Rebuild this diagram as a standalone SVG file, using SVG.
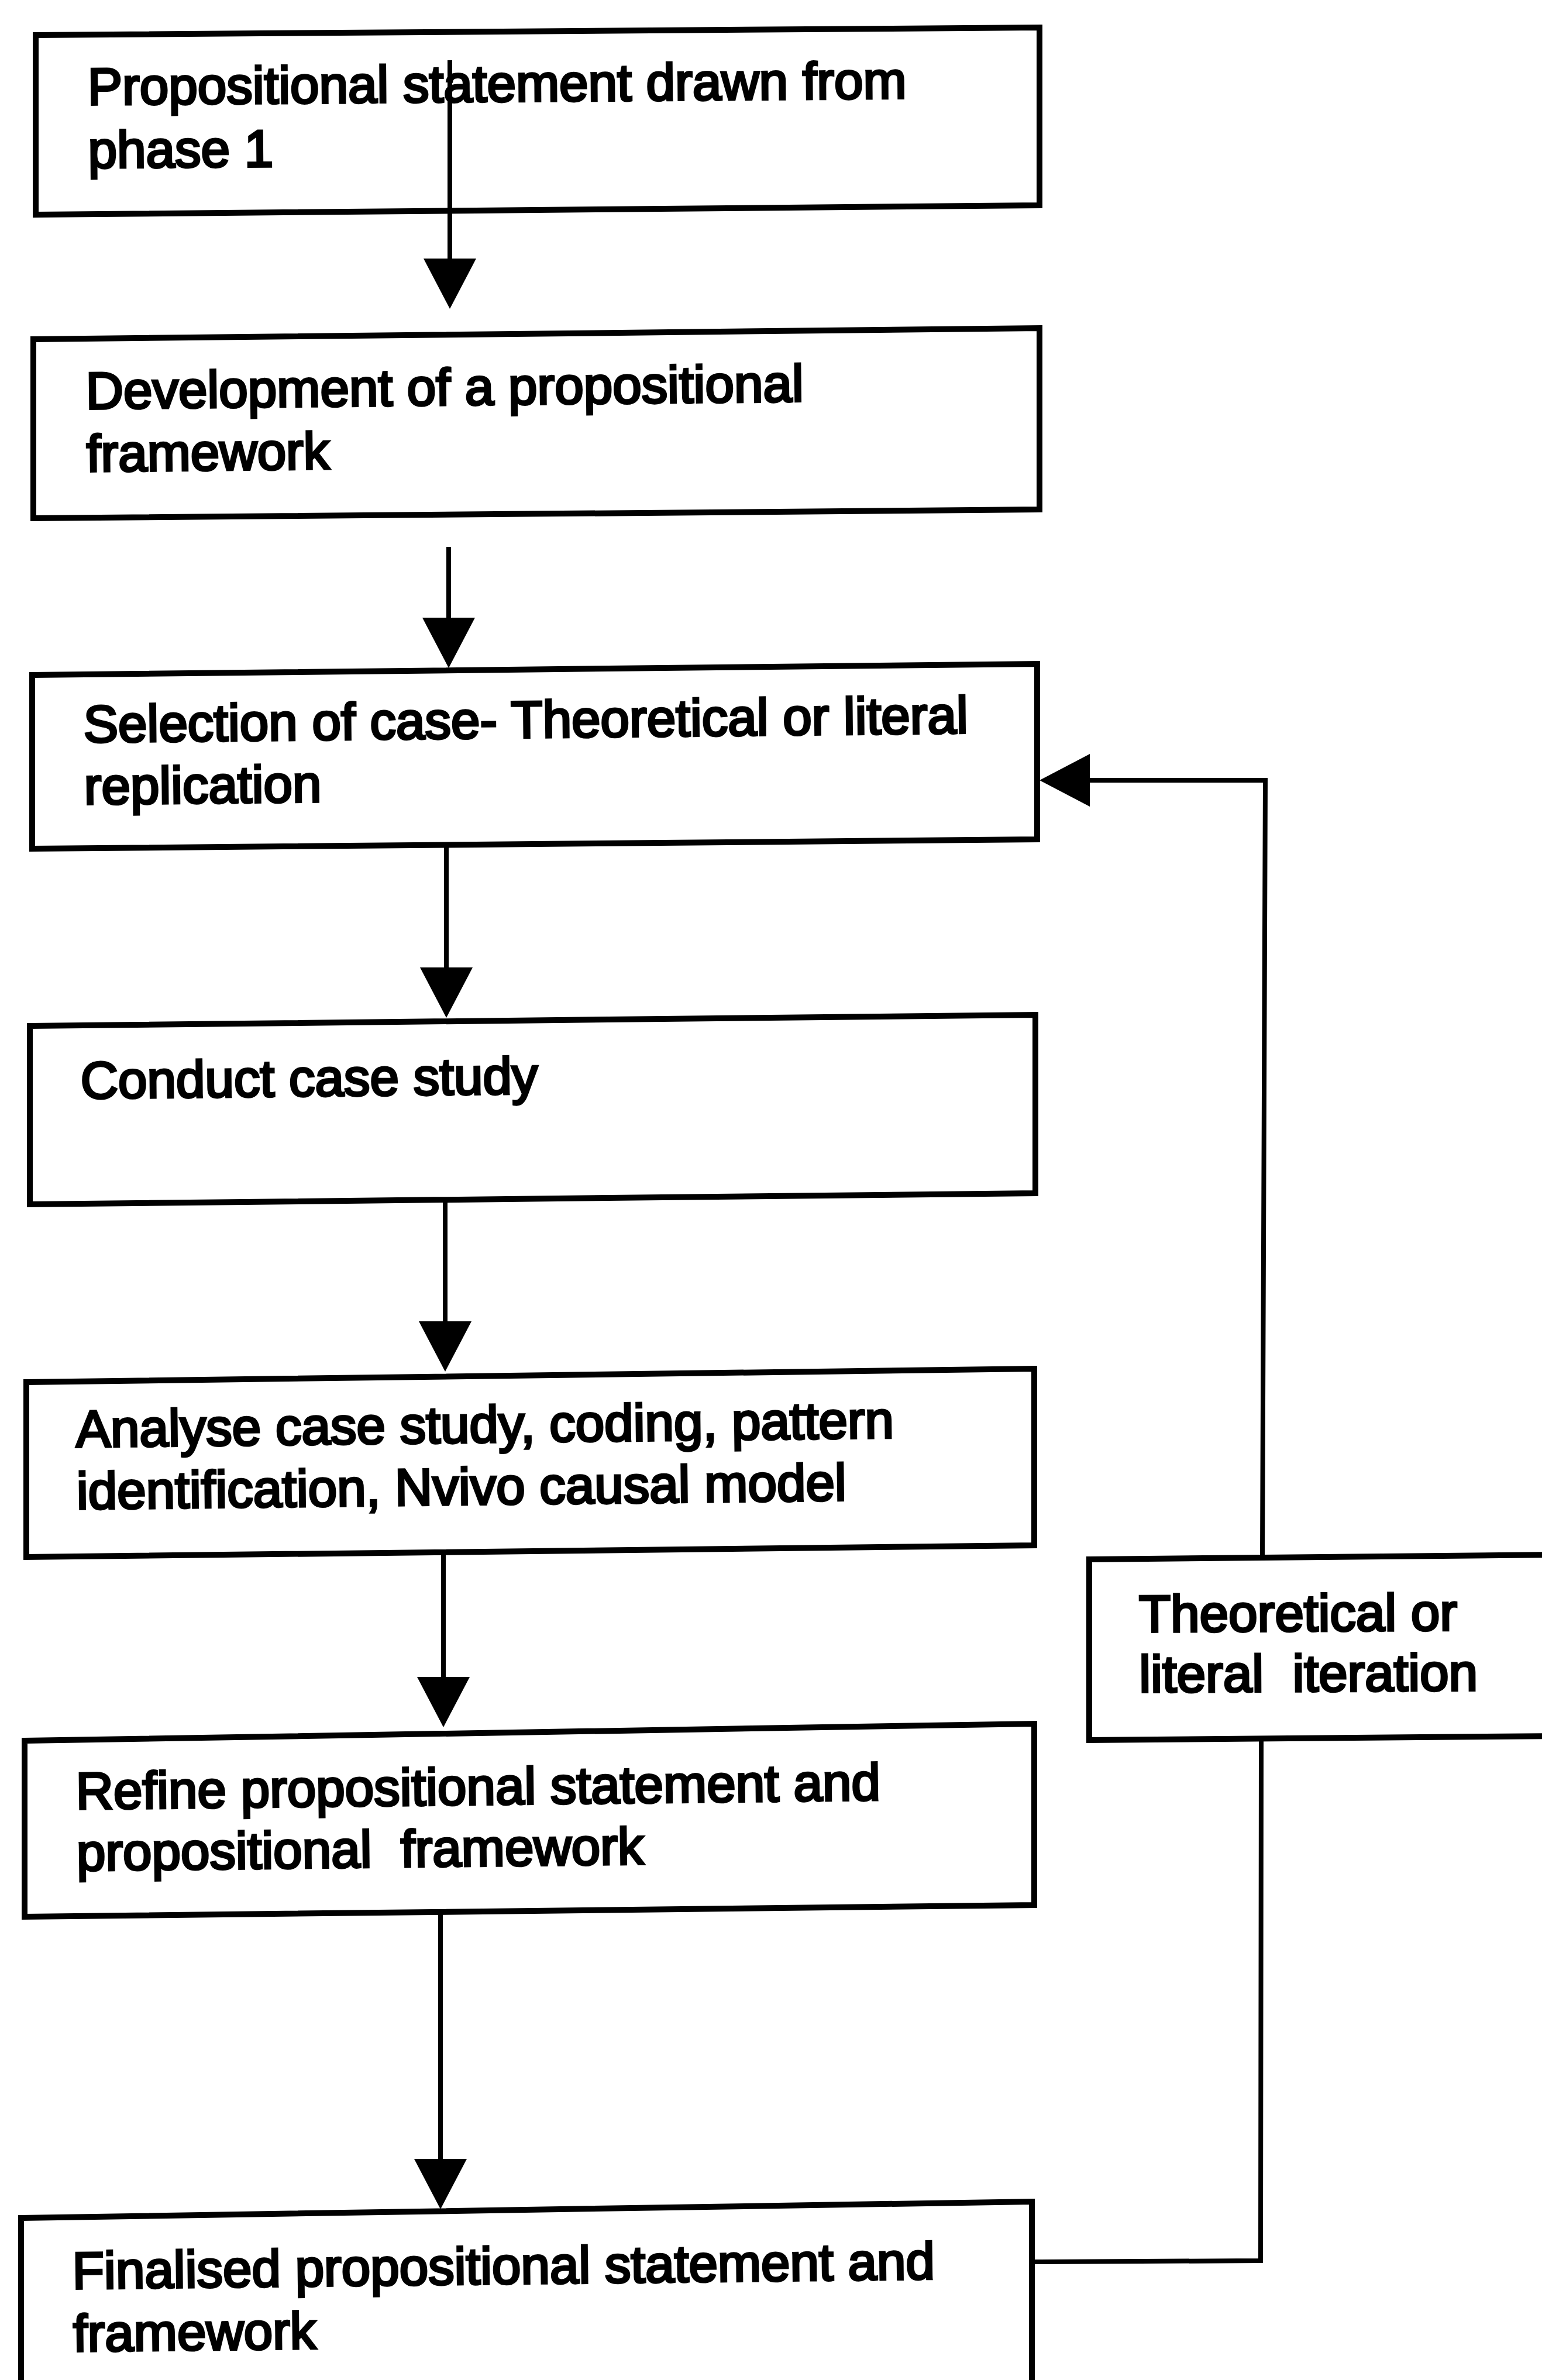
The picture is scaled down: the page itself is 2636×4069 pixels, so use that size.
<svg xmlns="http://www.w3.org/2000/svg" width="2636" height="4069" viewBox="0 0 2636 4069">
<style>
.box{fill:#fff;stroke:#000;stroke-width:10;stroke-linejoin:miter}
.lbl{font-family:"Liberation Sans",Arial,sans-serif;font-size:89px;fill:#000;stroke:#000;stroke-width:4}
.con{fill:none;stroke:#000;stroke-width:8}
</style>
<defs>
<marker id="ah" viewBox="0 0 86 90" refX="46" refY="45" markerWidth="86" markerHeight="90" markerUnits="userSpaceOnUse" orient="auto">
<path d="M0,0 L86,45 L0,90 Z" fill="#000"/>
</marker>
</defs>
<rect width="2636" height="4069" fill="#fff"/>
<g id="n1">
<polygon class="box" points="61,60 1777,47 1777,351 61,367"/>
<g transform="rotate(-0.45 150 179)">
<text class="lbl" x="150" y="179">Propositional statement drawn from</text>
<text class="lbl" x="150" y="287">phase 1</text>
</g>
</g>
<g id="n2">
<polygon class="box" points="57,580 1777,561 1777,871 57,886"/>
<g transform="rotate(-0.6 147 699)">
<text class="lbl" x="147" y="699">Development of a propositional</text>
<text class="lbl" x="147" y="806">framework</text>
</g>
</g>
<g id="n3">
<polygon class="box" points="55,1154 1773,1135 1773,1435 55,1451"/>
<g transform="rotate(-0.6 143 1269)">
<text class="lbl" x="143" y="1269">Selection of case- Theoretical or literal</text>
<text class="lbl" x="143" y="1375">replication</text>
</g>
</g>
<g id="n4">
<polygon class="box" points="51,1754 1770,1735 1770,2040 51,2059"/>
<g transform="rotate(-0.6 138 1878)">
<text class="lbl" x="138" y="1878">Conduct case study</text>
</g>
</g>
<g id="n5">
<polygon class="box" points="45,2363 1768,2340 1768,2642 45,2662"/>
<g transform="rotate(-0.65 130 2475)">
<text class="lbl" x="130" y="2474">Analyse case study, coding, pattern</text>
<text class="lbl" x="130" y="2580">identification, Nvivo causal model</text>
</g>
</g>
<g id="n6">
<polygon class="box" points="42,2976 1768,2947 1768,3257 42,3277"/>
<g transform="rotate(-0.65 130 3095)">
<text class="lbl" x="130" y="3093">Refine propositional statement and</text>
<text class="lbl" x="130" y="3198" xml:space="preserve">propositional  framework</text>
</g>
</g>
<g id="n7">
<polygon class="box" points="36,3792 1764,3764 1764,4100 36,4100"/>
<g transform="rotate(-0.65 124 3913)">
<text class="lbl" x="124" y="3913">Finalised propositional statement and</text>
<text class="lbl" x="124" y="4020">framework</text>
</g>
</g>
<g id="n8">
<polygon class="box" points="1862,2666 2660,2658 2660,2968 1862,2975"/>
<g transform="rotate(-0.3 1947 2790)">
<text class="lbl" x="1947" y="2790">Theoretical or</text>
<text class="lbl" x="1947" y="2893" xml:space="preserve">literal  iteration</text>
</g>
</g>
<g id="connectors">
<path class="con" d="M769,103 V488" marker-end="url(#ah)"/>
<path class="con" d="M767,935 V1102" marker-end="url(#ah)"/>
<path class="con" d="M763,1445 V1700" marker-end="url(#ah)"/>
<path class="con" d="M761,2050 V2305" marker-end="url(#ah)"/>
<path class="con" d="M758,2652 V2913" marker-end="url(#ah)"/>
<path class="con" d="M753,3267 V3737" marker-end="url(#ah)"/>
<path class="con" d="M1764,3867 L2155,3865 L2156,2975 M2158,2666 L2163,1334 L1817,1334" marker-end="url(#ah)"/>
</g>
</svg>
